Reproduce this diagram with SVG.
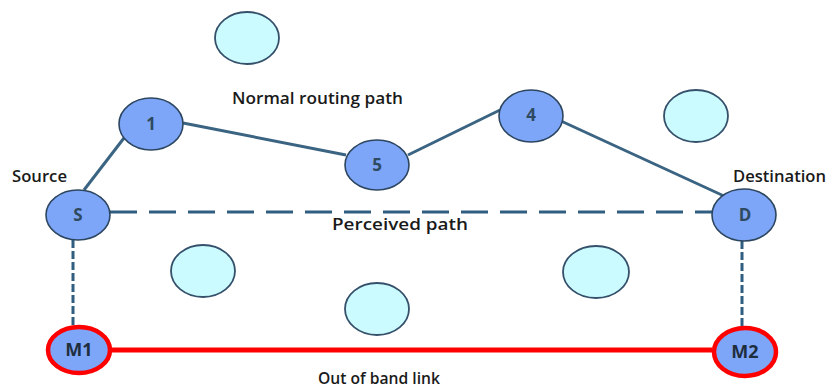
<svg xmlns="http://www.w3.org/2000/svg" width="830" height="388" viewBox="0 0 830 388">
  <style>
    .node { fill: #7EA6F8; stroke: #2C4660; stroke-width: 1.6; }
    .idle { fill: #CCFBFF; stroke: #34506A; stroke-width: 1.8; }
    .mal { fill: #7EA6F8; stroke: #FF0000; stroke-width: 4.5; }
    .nlabel { font-family: "Open Sans", "Liberation Sans", sans-serif; font-weight: 700; font-size: 17px; fill: #2E4A60; text-anchor: middle; }
    .mlabel { font-family: "Open Sans", "Liberation Sans", sans-serif; font-weight: 700; font-size: 18px; fill: #1E2E3E; text-anchor: middle; }
    .cap { font-family: "Open Sans", "Liberation Sans", sans-serif; font-weight: 600; font-size: 16.5px; fill: #1A1A1A; }
    .route { stroke: #3A6482; stroke-width: 3; fill: none; }
    .dash { stroke: #2F5E80; stroke-width: 3; fill: none; stroke-dasharray: 27 12; }
    .vdash { stroke: #2F5E80; stroke-width: 3; fill: none; stroke-dasharray: 8 3; }
    .oob { stroke: #FF0000; stroke-width: 5; fill: none; }
  </style>

  <!-- connectors -->
  <g id="connectors">
    <line class="route" x1="84" y1="190" x2="124" y2="138"/>
    <line class="route" x1="183" y1="123" x2="346" y2="155"/>
    <line class="route" x1="408" y1="155" x2="500" y2="110"/>
    <line class="route" x1="561" y1="121" x2="724" y2="196"/>
    <line class="dash" x1="110" y1="212" x2="712" y2="212"/>
    <line class="vdash" x1="73" y1="240" x2="73" y2="326"/>
    <line class="vdash" x1="742" y1="241" x2="742" y2="326"/>
    <line class="oob" x1="112" y1="350" x2="712" y2="350"/>
  </g>

  <!-- idle neighbour nodes -->
  <g id="idle-1"><ellipse class="idle" cx="247" cy="38" rx="32" ry="26"/></g>
  <g id="idle-2"><ellipse class="idle" cx="696" cy="116" rx="32" ry="26"/></g>
  <g id="idle-3"><ellipse class="idle" cx="203" cy="271" rx="32" ry="26"/></g>
  <g id="idle-4"><ellipse class="idle" cx="377" cy="309" rx="32" ry="26"/></g>
  <g id="idle-5"><ellipse class="idle" cx="596" cy="272" rx="33" ry="26"/></g>

  <!-- routing nodes -->
  <g id="node-S">
    <ellipse class="node" cx="78" cy="215" rx="32" ry="25"/>
    <text class="nlabel" x="78" y="221">S</text>
  </g>
  <g id="node-1">
    <ellipse class="node" cx="151" cy="124" rx="32" ry="26"/>
    <text class="nlabel" x="151" y="130">1</text>
  </g>
  <g id="node-5">
    <ellipse class="node" cx="377" cy="165" rx="32" ry="25"/>
    <text class="nlabel" x="377" y="171">5</text>
  </g>
  <g id="node-4">
    <ellipse class="node" cx="531" cy="116" rx="32" ry="26"/>
    <text class="nlabel" x="531" y="121">4</text>
  </g>
  <g id="node-D">
    <ellipse class="node" cx="744" cy="215" rx="32" ry="26"/>
    <text class="nlabel" x="745" y="221">D</text>
  </g>

  <!-- colluding nodes -->
  <g id="node-M1">
    <ellipse class="mal" cx="79" cy="350" rx="31" ry="23"/>
    <text class="mlabel" x="79" y="356">M1</text>
  </g>
  <g id="node-M2">
    <ellipse class="mal" cx="745" cy="352" rx="31" ry="24"/>
    <text class="mlabel" x="745" y="358">M2</text>
  </g>

  <!-- captions -->
  <g id="captions">
    <text class="cap" x="232" y="104" textLength="171" lengthAdjust="spacingAndGlyphs">Normal routing path</text>
    <text class="cap" x="12" y="182" textLength="55" lengthAdjust="spacingAndGlyphs">Source</text>
    <text class="cap" x="733" y="182" textLength="93" lengthAdjust="spacingAndGlyphs">Destination</text>
    <text class="cap" x="332" y="230" font-size="17.5" textLength="136" lengthAdjust="spacingAndGlyphs">Perceived path</text>
    <text class="cap" x="318" y="384" font-size="17.5" textLength="122" lengthAdjust="spacingAndGlyphs">Out of band link</text>
  </g>
</svg>
